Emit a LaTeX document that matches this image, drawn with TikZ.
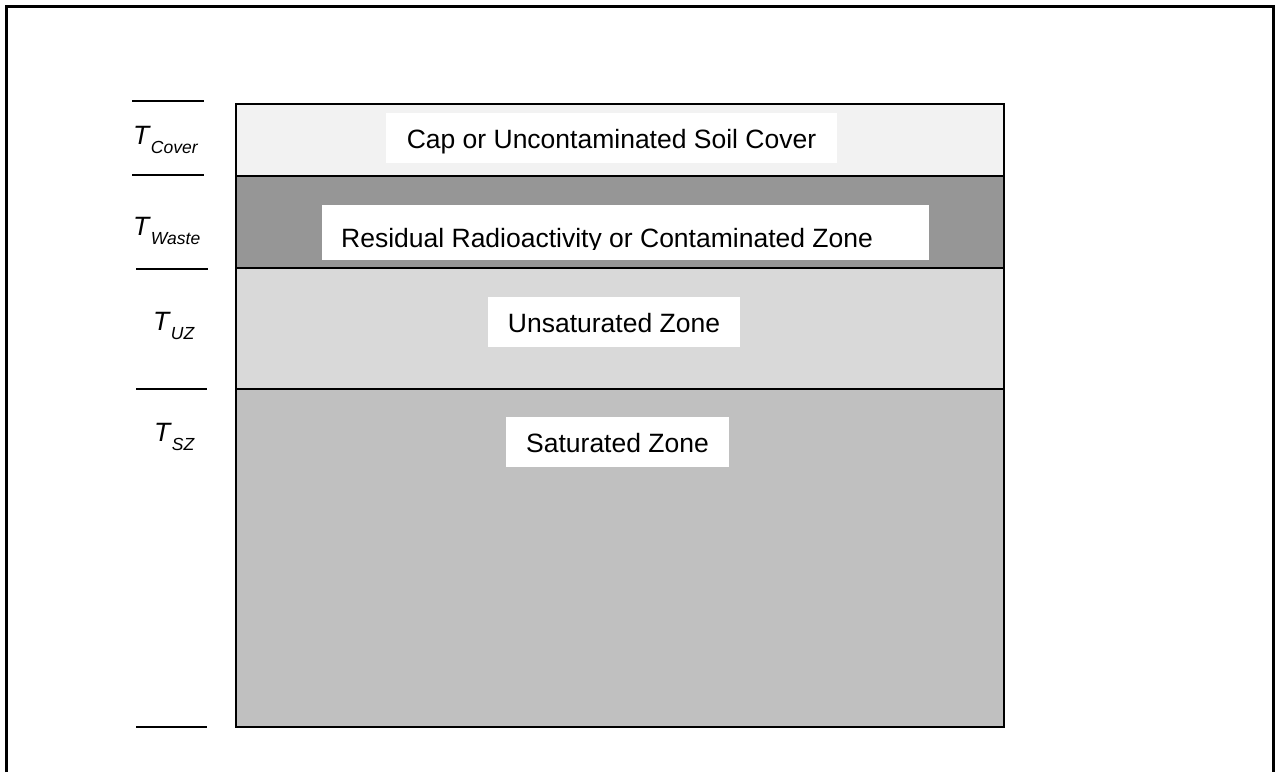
\documentclass[tikz,border=0pt]{standalone}
\usepackage{fontspec}
\setmainfont{Liberation Sans}
\usetikzlibrary{positioning}

\definecolor{covergray}{HTML}{F2F2F2}
\definecolor{wastegray}{HTML}{969696}
\definecolor{uzgray}{HTML}{D9D9D9}
\definecolor{szgray}{HTML}{C0C0C0}

\newcommand{\thick}[1]{\textit{T}\raisebox{-9pt}{\fontsize{17.5}{20}\selectfont\textit{#1}}}

\begin{document}
\begin{tikzpicture}
        [
            x=1pt, y=-1pt,
            layernode/.style={rectangle, draw=black, line width=2pt, inner sep=0pt, minimum width=768pt},
            textbox/.style={rectangle, fill=white, inner sep=0pt, text height=26pt, text depth=6pt, font=\fontsize{26.5}{32}\selectfont},
            thicklabel/.style={anchor=base west, inner sep=0pt, font=\fontsize{26.5}{32}\selectfont},
            tickline/.style={line width=2pt},
        ]
        \useasboundingbox (0,0) rectangle (1275,772);

        %Moldura
        \draw[line width=3pt] (6,772) -- (6,6) -- (1273,6) -- (1273,772);

        %Camadas
        \node[layernode, fill=covergray, minimum height=72pt]  (cover) at (620,140)   {};
        \node[layernode, fill=wastegray, minimum height=92pt]  (waste) at (620,222)   {};
        \node[layernode, fill=uzgray,    minimum height=121pt] (uz)    at (620,328.5) {};
        \node[layernode, fill=szgray,    minimum height=338pt] (sz)    at (620,558)   {};

        %Textos
        \node[textbox, minimum width=451pt, minimum height=50pt] (covertext) at (611.5,138) {Cap or Uncontaminated Soil Cover};
        \node[textbox, minimum width=607pt, minimum height=55pt] (wastebox)  at (625.5,232.5) {};
        \begin{scope}
            \clip (322,205) rectangle (929,249);
            \node[thicklabel] (wastetext) at (341,247) {Residual Radioactivity or Contaminated Zone};
        \end{scope}
        \node[textbox, minimum width=252pt, minimum height=50pt] (uztext) at (614,322) {Unsaturated Zone};
        \node[textbox, minimum width=223pt, minimum height=50pt] (sztext) at (617.5,442) {Saturated Zone};

        %Espessuras
        \node[thicklabel] (tcover) at (133,144) {\thick{Cover}};
        \node[thicklabel] (twaste) at (133,235) {\thick{Waste}};
        \node[thicklabel] (tuz)    at (153,330) {\thick{UZ}};
        \node[thicklabel] (tsz)    at (154,441) {\thick{SZ}};

        %Linhas
        \draw[tickline] (132,101) -- (204,101);
        \draw[tickline] (132,175) -- (204,175);
        \draw[tickline] (136,269) -- (208,269);
        \draw[tickline] (136,389) -- (207,389);
        \draw[tickline] (136,727) -- (207,727);
    \end{tikzpicture}
\end{document}
